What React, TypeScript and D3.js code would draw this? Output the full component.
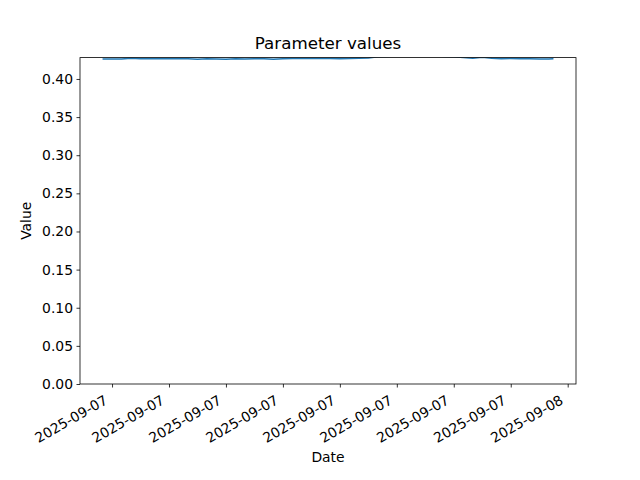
import { useEffect, useRef } from 'react';
import * as d3 from 'd3';

const WIDTH = 640;
const HEIGHT = 480;
const MARGIN = { top: 57.6, right: 64, bottom: 96, left: 80 };

// sampled every 30 minutes starting 2025-09-06 23:30, last sample at 23:15
const START = '2025-09-06T23:30:00';
const LAST = '2025-09-07T23:15:00';
const VALUES = [
  0.4262, 0.4262, 0.4263, 0.4272, 0.4265, 0.4266, 0.4264, 0.4265, 0.4266,
  0.4265, 0.4259, 0.4265, 0.4263, 0.4258, 0.4265, 0.4262, 0.4266, 0.4265,
  0.4257, 0.4265, 0.4268, 0.4267, 0.4268, 0.4269, 0.4268, 0.4266, 0.4267,
  0.4272, 0.4276, 0.429, 0.4295, 0.4302, 0.431, 0.4305, 0.4298, 0.4301,
  0.4296, 0.4291, 0.4282, 0.4272, 0.4285, 0.427, 0.4266, 0.4267, 0.4266,
  0.4265, 0.4261, 0.4262, 0.4264,
];
const Y_MAX = 0.428;
const Y_TICKS = [0, 0.05, 0.1, 0.15, 0.2, 0.25, 0.3, 0.35, 0.4];

export default function App() {
  const svgRef = useRef<SVGSVGElement>(null);

  useEffect(() => {
    if (!svgRef.current) return;
    const svg = d3.select(svgRef.current);
    svg.selectAll('*').remove();

    const innerW = WIDTH - MARGIN.left - MARGIN.right;
    const innerH = HEIGHT - MARGIN.top - MARGIN.bottom;
    const font = 'DejaVu Sans, sans-serif';

    const parse = d3.timeParse('%Y-%m-%dT%H:%M:%S');
    const times = d3.timeMinute.every(30)!.range(parse(START)!, parse(LAST)!);
    times.push(parse(LAST)!);
    const data = VALUES.map((v, i) => ({ t: times[i], v }));

    const [t0, t1] = d3.extent(data, (d) => d.t) as [Date, Date];
    const pad = (+t1 - +t0) * 0.05;
    const x = d3.scaleTime()
      .domain([new Date(+t0 - pad), new Date(+t1 + pad)])
      .range([0, innerW]);
    const y = d3.scaleLinear().domain([0, Y_MAX]).range([innerH, 0]);

    const g = svg.append('g').attr('transform', `translate(${MARGIN.left},${MARGIN.top})`);

    svg.append('defs').append('clipPath').attr('id', 'plot-clip')
      .append('rect').attr('width', innerW).attr('height', innerH);

    // line
    g.append('path')
      .datum(data)
      .attr('clip-path', 'url(#plot-clip)')
      .attr('fill', 'none')
      .attr('stroke', '#1f77b4')
      .attr('stroke-width', 1.5)
      .attr('d', d3.line<{ t: Date; v: number }>().x((d) => x(d.t)).y((d) => y(d.v)));

    // x axis
    const xTicks = d3.timeHour.every(3)!.range(new Date(2025, 8, 7, 0), new Date(2025, 8, 8, 1));
    const xa = g.append('g')
      .attr('transform', `translate(0,${innerH})`)
      .call(d3.axisBottom(x).tickValues(xTicks).tickSize(3.5).tickPadding(0)
        .tickFormat((d) => d3.timeFormat('%Y-%m-%d')(d as Date)));
    xa.select('.domain').remove();
    xa.selectAll('.tick line').attr('stroke', '#000').attr('stroke-width', 0.8);
    xa.selectAll('.tick text')
      .attr('fill', '#000')
      .attr('font-family', font)
      .attr('font-size', '13.9px')
      .attr('text-anchor', 'end')
      .attr('dy', null)
      .attr('y', null)
      .attr('transform', 'translate(-4,19) rotate(-30)');

    // y axis
    const ya = g.append('g')
      .call(d3.axisLeft(y).tickValues(Y_TICKS).tickSize(3.5).tickPadding(3.5).tickFormat(d3.format('.2f')));
    ya.select('.domain').remove();
    ya.selectAll('.tick line').attr('stroke', '#000').attr('stroke-width', 0.8);
    ya.selectAll('.tick text')
      .attr('fill', '#000')
      .attr('font-family', font)
      .attr('font-size', '13.9px');

    // frame
    g.append('rect')
      .attr('width', innerW)
      .attr('height', innerH)
      .attr('fill', 'none')
      .attr('stroke', '#000')
      .attr('stroke-width', 0.8);

    // labels
    g.append('text')
      .attr('x', innerW / 2)
      .attr('y', -9)
      .attr('text-anchor', 'middle')
      .attr('font-family', font)
      .attr('font-size', '16.7px')
      .text('Parameter values');

    g.append('text')
      .attr('x', innerW / 2)
      .attr('y', innerH + 78)
      .attr('text-anchor', 'middle')
      .attr('font-family', font)
      .attr('font-size', '13.9px')
      .text('Date');

    g.append('text')
      .attr('transform', 'rotate(-90)')
      .attr('x', -innerH / 2)
      .attr('y', -49)
      .attr('text-anchor', 'middle')
      .attr('font-family', font)
      .attr('font-size', '13.9px')
      .text('Value');
  }, []);

  return (
    <div style={{ position: 'absolute', left: 0, top: 0, background: '#fff' }}>
      <svg ref={svgRef} width={WIDTH} height={HEIGHT} style={{ display: 'block' }} />
    </div>
  );
}
